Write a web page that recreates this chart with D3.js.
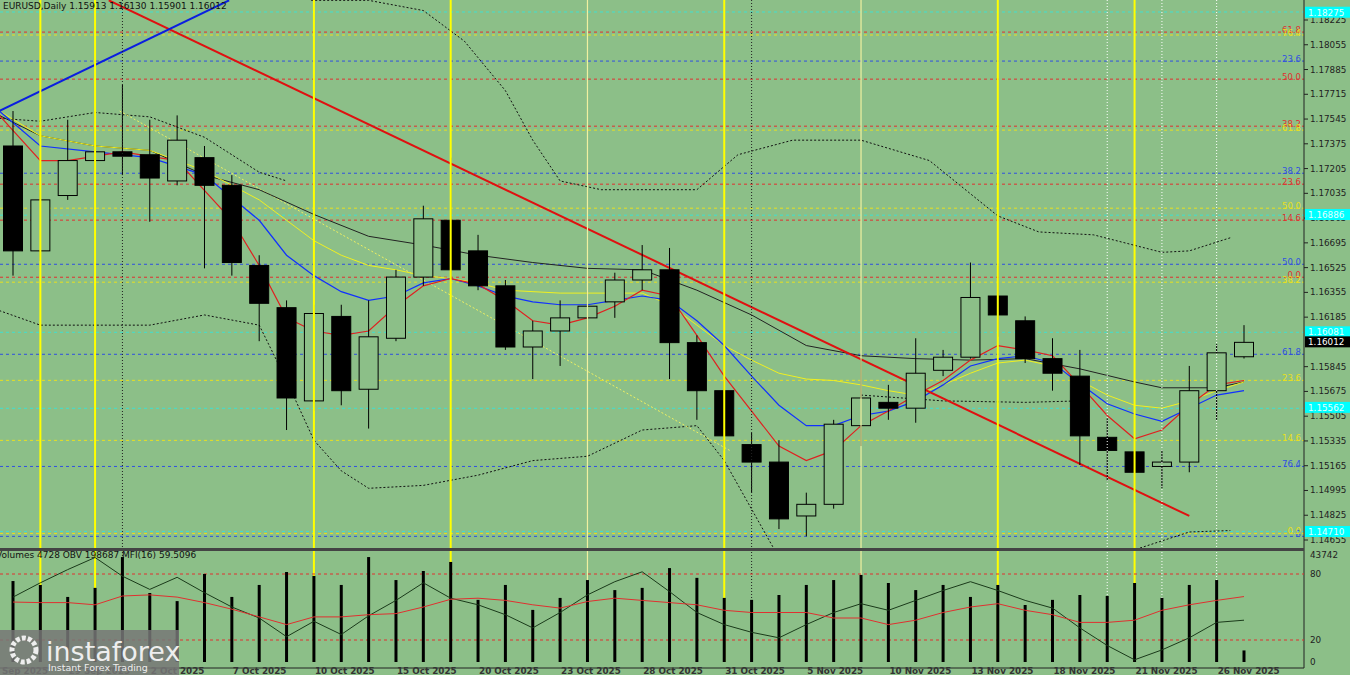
<!DOCTYPE html>
<html><head><meta charset="utf-8">
<script src="https://cdn.jsdelivr.net/npm/d3@7"></script>
<style>body{margin:0;background:#8cbf88}svg{display:block}text{font-family:"DejaVu Sans",sans-serif}</style>
</head><body><svg id="chart" width="1350" height="675"></svg>
<script>
// OHLC per daily bar
const opens  = [1.1736,1.1664,1.1702,1.1726,1.1732,1.1730,1.1712,1.1728,1.1709,1.1654,1.1625,1.1561,1.1619,1.1569,1.1604,1.1646,1.1685,1.1664,1.1640,1.1598,1.1609,1.1618,1.1629,1.1644,1.1651,1.1601,1.1568,1.1531,1.1519,1.1482,1.1490,1.1544,1.1560,1.1556,1.1582,1.1591,1.1633,1.1616,1.1590,1.1578,1.1536,1.1526,1.1516,1.1519,1.1568,1.15913];
const highs  = [1.1760,1.1706,1.1754,1.1760,1.1778,1.1754,1.1757,1.1736,1.1716,1.1661,1.1630,1.1627,1.1627,1.1630,1.1651,1.1695,1.1728,1.1675,1.1644,1.1616,1.1630,1.1637,1.1649,1.1668,1.1666,1.1606,1.1575,1.1539,1.1534,1.1498,1.1548,1.1590,1.1572,1.1604,1.1596,1.1656,1.1654,1.1619,1.1604,1.1596,1.1549,1.1534,1.1527,1.1585,1.1600,1.16130];
const lows   = [1.1647,1.1657,1.1699,1.1716,1.1716,1.1684,1.1709,1.1652,1.1647,1.1602,1.1541,1.1554,1.1558,1.1542,1.1602,1.1640,1.1645,1.1637,1.1596,1.1576,1.1585,1.1604,1.1618,1.1637,1.1576,1.1548,1.1527,1.1498,1.1473,1.1468,1.1487,1.1530,1.1548,1.1546,1.1578,1.1590,1.1605,1.1587,1.1568,1.1517,1.1506,1.1491,1.1501,1.1512,1.1548,1.15901];
const closes = [1.1664,1.1699,1.1726,1.1732,1.1729,1.1714,1.1740,1.1709,1.1656,1.1628,1.1563,1.1621,1.1568,1.1605,1.1646,1.1686,1.1651,1.1640,1.1598,1.1609,1.1618,1.1626,1.1644,1.1651,1.1601,1.1568,1.1537,1.1519,1.1480,1.1490,1.1545,1.1563,1.1556,1.1580,1.1591,1.1632,1.1620,1.1590,1.1580,1.1537,1.1527,1.1512,1.1519,1.1568,1.1594,1.16012];
const volumes = [33100,31500,26600,30300,42900,28200,24900,36000,26600,31500,36800,35200,31500,42900,33500,37200,40900,25400,31500,21300,26200,33500,29400,30300,38400,34400,26200,25400,27400,31500,33500,35600,32300,29400,31500,26600,31500,23300,25400,27400,27000,32300,26200,31500,33500,4728];
const mfi = [54.5,54,54,52,60,61,59,54,48,41,34,41,41,43,44,50,57,58,56,52,49,55,58,56,54,52,47,45,45,45,40,40,34,38,45,50,53,47,43,36,36,38,47,52,56,59.5];
const obv = [59,72,84,95,78,66,77,63,50,40,23,37,25,42,56,72,58,52,43,31,45,61,73,82,64,45,34,27,22,34,45,53,47,56,65,73,65,56,49,31,15,2,11,22,36,38];
// moving averages read as [bar, price]
const maRed = [[-0.5,1.1757],[1,1.1726],[2,1.1726],[4,1.1732],[6,1.1726],[8,1.1685],[9,1.1654],[10,1.1618],[11,1.1609],[12,1.1606],[13,1.1609],[14,1.1626],[15,1.1640],[16,1.1645],[17,1.1641],[18,1.1630],[19,1.1616],[20,1.1613],[21,1.1618],[22,1.1626],[23,1.1637],[24,1.1633],[25,1.1606],[26,1.1578],[27,1.1554],[28,1.1530],[29,1.1520],[30,1.1527],[31,1.1544],[32,1.1554],[33,1.1565],[34,1.1575],[35,1.1589],[36,1.1599],[37,1.1596],[38,1.1592],[39,1.1572],[40,1.1551],[41,1.1535],[42,1.1541],[43,1.1558],[44,1.1572],[45,1.1575]];
const maBlue = [[-0.5,1.1760],[1,1.1736],[3,1.1732],[5,1.1728],[7,1.1716],[9,1.1685],[10,1.1661],[11,1.1647],[12,1.1636],[13,1.1630],[14,1.1633],[15,1.1642],[16,1.1645],[17,1.1640],[18,1.1633],[19,1.1629],[20,1.1627],[21,1.1627],[22,1.1630],[23,1.1633],[24,1.1630],[25,1.1616],[26,1.1599],[27,1.1578],[28,1.1558],[29,1.1544],[30,1.1544],[31,1.1551],[32,1.1554],[33,1.1561],[34,1.1572],[35,1.1585],[36,1.1590],[37,1.1592],[38,1.1587],[39,1.1573],[40,1.1559],[41,1.1552],[42,1.1547],[43,1.1556],[44,1.1565],[45,1.1568]];
const maYellow = [[-0.5,1.1760],[1,1.1743],[3,1.1736],[5,1.1733],[7,1.1719],[9,1.1699],[10,1.1685],[11,1.1671],[12,1.1661],[13,1.1654],[14,1.1651],[15,1.1647],[16,1.1645],[17,1.1642],[18,1.1637],[20,1.1635],[22,1.1635],[23,1.1635],[24,1.1627],[25,1.1613],[26,1.1599],[27,1.1589],[28,1.1580],[29,1.1576],[30,1.1575],[31,1.1572],[32,1.1568],[33,1.1565],[34,1.1572],[35,1.1580],[36,1.1587],[37,1.1589],[38,1.1585],[39,1.1575],[40,1.1565],[41,1.1558],[42,1.1556],[43,1.1561],[44,1.1568],[45,1.1574]];
const maBlack = [[-0.5,1.1757],[1,1.1743],[3,1.1736],[5,1.1733],[7,1.1716],[9,1.1706],[11,1.1689],[13,1.1674],[15,1.1668],[17,1.1661],[19,1.1656],[21,1.1652],[23,1.1651],[25,1.1637],[27,1.1620],[29,1.1599],[31,1.1592],[33,1.1590],[35,1.1589],[37,1.1590],[39,1.1583],[41,1.1574],[42,1.1570],[44,1.1570],[45,1.1574]];
const bandUpper = [[10.9,1.1836],[13,1.1836],[15,1.1829],[16.5,1.1808],[18,1.1774],[19,1.1740],[20,1.1712],[21.5,1.1706],[25,1.1706],[26.5,1.1730],[28.5,1.1740],[31,1.1740],[33.5,1.1726],[36,1.1688],[37.5,1.1677],[39.5,1.1675],[42,1.1663],[43,1.1664],[44.5,1.1673]];
const bandUpperLeft = [[-0.5,1.1755],[1,1.1753],[3,1.1759],[5,1.1756],[7,1.1742],[9,1.1718],[10,1.1712]];
const bandLower = [[-0.5,1.1623],[1,1.1613],[3,1.1613],[5,1.1613],[7,1.1620],[9,1.1613],[10,1.1575],[11,1.1534],[12,1.1513],[13,1.1501],[15,1.1503],[17,1.1510],[19,1.1520],[21,1.1523],[23,1.1541],[25,1.1544],[26,1.1520],[27.8,1.1460]];
const bandLowerRight = [[41.2,1.1460],[43,1.1471],[44.5,1.1472]];
const bandMid = [[31,1.1565],[34,1.1561],[37,1.1560],[39,1.1561]];
const yellowDiag = [[3.9,1.1760],[26.2,1.1527]];
const trendRed = [[3.5,1.1836],[43,1.1482]];
const trendBlue = [[-0.5,1.1760],[7.9,1.1836]];
// retracement levels
const levels = [
  [1.18280,'#40e0d0',''],[1.18142,'#e03030','61.8'],[1.18122,'#e8e020','76.4'],[1.17943,'#3050e0','23.6'],
  [1.17819,'#e03030','50.0'],[1.17496,'#e03030','38.2'],[1.17469,'#e8e020','61.8'],[1.17173,'#3050e0','38.2'],
  [1.17098,'#e03030','23.6'],[1.16933,'#e8e020','50.0'],[1.16885,'#40e0d0',''],[1.16851,'#e03030','14.6'],
  [1.16548,'#3050e0','50.0'],[1.16459,'#e03030','0.0'],[1.16425,'#e8e020','38.2'],[1.16081,'#40e0d0',''],
  [1.15930,'#3050e0','61.8'],[1.15751,'#e8e020','23.6'],[1.15559,'#40e0d0',''],[1.15339,'#e8e020','14.6'],
  [1.15160,'#3050e0','76.4'],[1.14714,'#40e0d0',''],[1.14680,'#3050e0','8'],[1.14700,'#e8e020','0.0']];
const cyanBoxes = [1.18275,1.16886,1.16081,1.15562,1.14710];
const priceTicks = [1.18225,1.18055,1.17885,1.17715,1.17545,1.17375,1.17205,1.17035,1.16865,1.16695,1.16525,1.16355,1.16185,1.15845,1.15675,1.15505,1.15335,1.15165,1.14995,1.14825,1.14655];
const dateTicks = [[-1,'24 Sep 2025'],[2,'29 Sep 2025'],[5,'2 Oct 2025'],[8,'7 Oct 2025'],[11,'10 Oct 2025'],[14,'15 Oct 2025'],[17,'20 Oct 2025'],[20,'23 Oct 2025'],[23,'28 Oct 2025'],[26,'31 Oct 2025'],[29,'5 Nov 2025'],[32,'10 Nov 2025'],[35,'13 Nov 2025'],[38,'18 Nov 2025'],[41,'21 Nov 2025'],[44,'26 Nov 2025']];
const yellowV = [1,3,11,16,21,26,31,36,41];
const paleV = [21,31];
const blackDotV = [4,27];
const whiteDotV = [40,42,44];

const svg = d3.select('#chart');
const x = d3.scaleLinear().domain([0,45]).range([13,1244]);
const y = d3.scaleLinear().domain([1.14655,1.18225]).range([540,20]);
const yInd = d3.scaleLinear().domain([0,100]).range([662,552]);
const yVol = d3.scaleLinear().domain([0,43742]).range([662,555]);
const W = 1304;

svg.append('defs').append('clipPath').attr('id','clipMain').append('rect').attr('x',0).attr('y',0).attr('width',W).attr('height',549);
const plot = svg.append('g').attr('clip-path','url(#clipMain)');

// vertical lines
yellowV.forEach(i => svg.append('line').attr('x1',x(i)).attr('x2',x(i)).attr('y1',0).attr('y2',662)
  .attr('stroke', paleV.includes(i) ? '#f0f0a0' : '#ffff00').attr('stroke-width', paleV.includes(i) ? 1.2 : 2));
blackDotV.forEach(i => svg.append('line').attr('x1',x(i)).attr('x2',x(i)).attr('y1',0).attr('y2',662)
  .attr('stroke','#222').attr('stroke-dasharray','1,2'));
whiteDotV.forEach(i => svg.append('line').attr('x1',x(i)).attr('x2',x(i)).attr('y1',0).attr('y2',662)
  .attr('stroke','#fff').attr('stroke-dasharray','1,2'));

// levels
levels.forEach(([p,c,l]) => {
  plot.append('line').attr('x1',0).attr('x2',W).attr('y1',y(p)).attr('y2',y(p))
    .attr('stroke',c).attr('stroke-dasharray','3,3').attr('stroke-width',1);
  if (l) plot.append('text').attr('x',1301).attr('y',y(p)+1).attr('text-anchor','end')
    .attr('font-size',8.5).attr('fill',c).text(l);
});

const line = d3.line().x(d => x(d[0])).y(d => y(d[1]));
const path = (data, color, w, dash) => plot.append('path').attr('d', line(data)).attr('fill','none')
  .attr('stroke',color).attr('stroke-width',w).attr('stroke-dasharray',dash || null);
[bandUpper, bandUpperLeft, bandLower, bandLowerRight, bandMid].forEach(b => path(b,'#111',1,'2,2'));
path(yellowDiag,'#f0f060',1,'2,2');
path(maBlack,'#222',1);
path(maYellow,'#f0f020',1);
path(maBlue,'#1030ff',1.2);
path(maRed,'#e02020',1.2);
path(trendRed,'#e01010',2);
path(trendBlue,'#0a1ee0',2);

// candles
const bw = 19;
closes.forEach((c,i) => {
  const o = opens[i];
  plot.append('line').attr('x1',x(i)).attr('x2',x(i)).attr('y1',y(highs[i])).attr('y2',y(lows[i])).attr('stroke','#000');
  const up = c >= o;
  plot.append('rect').attr('x',x(i)-bw/2).attr('width',bw)
    .attr('y',y(Math.max(o,c))).attr('height',Math.max(1,Math.abs(y(o)-y(c))))
    .attr('fill', up ? '#8cbf88' : '#000').attr('stroke','#000');
});

// right axis
svg.append('line').attr('x1',W).attr('x2',W).attr('y1',0).attr('y2',668).attr('stroke','#222');
priceTicks.forEach(p => {
  svg.append('line').attr('x1',W).attr('x2',W+4).attr('y1',y(p)).attr('y2',y(p)).attr('stroke','#222');
  svg.append('text').attr('x',1310).attr('y',y(p)+3).attr('font-size',8.8).attr('fill','#222').text(p.toFixed(5));
});
cyanBoxes.forEach(p => {
  svg.append('rect').attr('x',W+1).attr('y',y(p)-6).attr('width',46).attr('height',11).attr('fill','#00ffff');
  svg.append('text').attr('x',1308).attr('y',y(p)+3).attr('font-size',8.8).attr('fill','#e0ffff').text(p.toFixed(5));
});
const last = closes[closes.length-1];
svg.append('rect').attr('x',W+1).attr('y',y(last)-6).attr('width',46).attr('height',11).attr('fill','#000');
svg.append('text').attr('x',1308).attr('y',y(last)+3).attr('font-size',8.8).attr('fill','#fff').text(last.toFixed(5));

svg.append('text').attr('x',3).attr('y',9).attr('font-size',9).attr('fill','#111')
  .text(`EURUSD,Daily  ${opens[45].toFixed(5)} ${highs[45].toFixed(5)} ${lows[45].toFixed(5)} ${last.toFixed(5)}`);

// separator
svg.append('rect').attr('x',0).attr('y',548).attr('width',W).attr('height',3).attr('fill','#444');

// indicator panel
[80,20].forEach(v => svg.append('line').attr('x1',0).attr('x2',W).attr('y1',yInd(v)).attr('y2',yInd(v))
  .attr('stroke','#e03030').attr('stroke-dasharray','3,3'));
volumes.forEach((v,i) => svg.append('line').attr('x1',x(i)).attr('x2',x(i)).attr('y1',yVol(v)).attr('y2',662).attr('stroke','#000').attr('stroke-width',3));
const lineInd = d3.line().x((d,i) => x(i)).y(d => yInd(d));
svg.append('path').attr('d',lineInd(obv)).attr('fill','none').attr('stroke','#1a3a1a').attr('stroke-width',1);
svg.append('path').attr('d',lineInd(mfi)).attr('fill','none').attr('stroke','#e03030').attr('stroke-width',1);
svg.append('text').attr('x',-4).attr('y',558).attr('font-size',9).attr('fill','#111')
  .text(`Volumes ${volumes[45]}  OBV 198687  MFI(16) 59.5096`);
[[43742,yVol(43742)+3],[80,yInd(80)+3],[20,yInd(20)+3],[0,yInd(0)+3]].forEach(([t,yy]) =>
  svg.append('text').attr('x',1310).attr('y',yy).attr('font-size',8.8).attr('fill','#222').text(t));

// bottom axis
svg.append('line').attr('x1',0).attr('x2',W).attr('y1',668).attr('y2',668).attr('stroke','#222');
dateTicks.forEach(([i,t]) => {
  svg.append('text').attr('x',x(i)+1).attr('y',674).attr('font-size',8.8).attr('font-weight','bold').attr('fill','#333').text(t);
});

// watermark
svg.append('rect').attr('x',0).attr('y',630).attr('width',179).attr('height',45).attr('fill','#777').attr('opacity',0.85);
svg.append('circle').attr('cx',24).attr('cy',650).attr('r',12).attr('fill','none').attr('stroke','#eee').attr('stroke-width',5).attr('stroke-dasharray','4,2');
svg.append('text').attr('x',46).attr('y',661).attr('font-size',27).attr('fill','#eee').text('instaforex');
svg.append('text').attr('x',48).attr('y',671).attr('font-size',9.5).attr('fill','#eee').text('Instant Forex Trading');
</script></body></html>
